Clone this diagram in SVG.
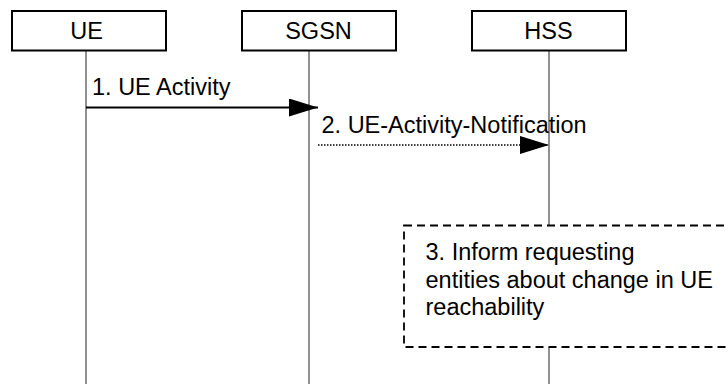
<svg xmlns="http://www.w3.org/2000/svg" width="728" height="388" viewBox="0 0 728 388">
<style>
text{font-family:"Liberation Sans",Arial,sans-serif;font-size:23.5px;fill:#000}
.box{fill:#fff;stroke:#000;stroke-width:2}
.life{stroke:#555;stroke-width:1.3;fill:none}
.msg{stroke:#000;stroke-width:2;fill:none}
.dot{stroke:#000;stroke-width:1.5;stroke-dasharray:1.5 1.5;fill:none}
.note{fill:#fff;stroke:#000;stroke-width:1.8;stroke-dasharray:8 5}
</style>
<defs>
<marker id="ah" markerUnits="userSpaceOnUse" markerWidth="30" markerHeight="20" refX="29" refY="9" orient="auto">
<path d="M0,0 L29,9 L0,18 z" fill="#000"/>
</marker>
</defs>
<g id="lifelines">
<line class="life" x1="86" y1="51" x2="86" y2="384"/>
<line class="life" x1="309" y1="51" x2="309" y2="384"/>
<line class="life" x1="549" y1="51" x2="549" y2="384"/>
</g>
<g id="node-ue">
<rect class="box" x="12" y="11" width="154" height="39.5"/>
<text x="86.5" y="38.5" text-anchor="middle">UE</text>
</g>
<g id="node-sgsn">
<rect class="box" x="242" y="11" width="154" height="39.5"/>
<text x="318.5" y="38.5" text-anchor="middle">SGSN</text>
</g>
<g id="node-hss">
<rect class="box" x="472" y="11" width="154" height="39.5"/>
<text x="548.5" y="38.5" text-anchor="middle">HSS</text>
</g>
<g id="connectors">
<line class="msg" x1="86" y1="107.5" x2="318" y2="107.5" marker-end="url(#ah)"/>
<text x="92" y="95">1. UE Activity</text>
<line class="dot" x1="318" y1="145" x2="549" y2="145" marker-end="url(#ah)"/>
<text x="321.5" y="133">2. UE-Activity-Notification</text>
</g>
<g id="node-note">
<rect class="note" x="404" y="225.5" width="360" height="121.5"/>
<text x="425.5" y="260">3. Inform requesting</text>
<text x="425.5" y="287.5">entities about change in UE</text>
<text x="425.5" y="315">reachability</text>
</g>
</svg>
